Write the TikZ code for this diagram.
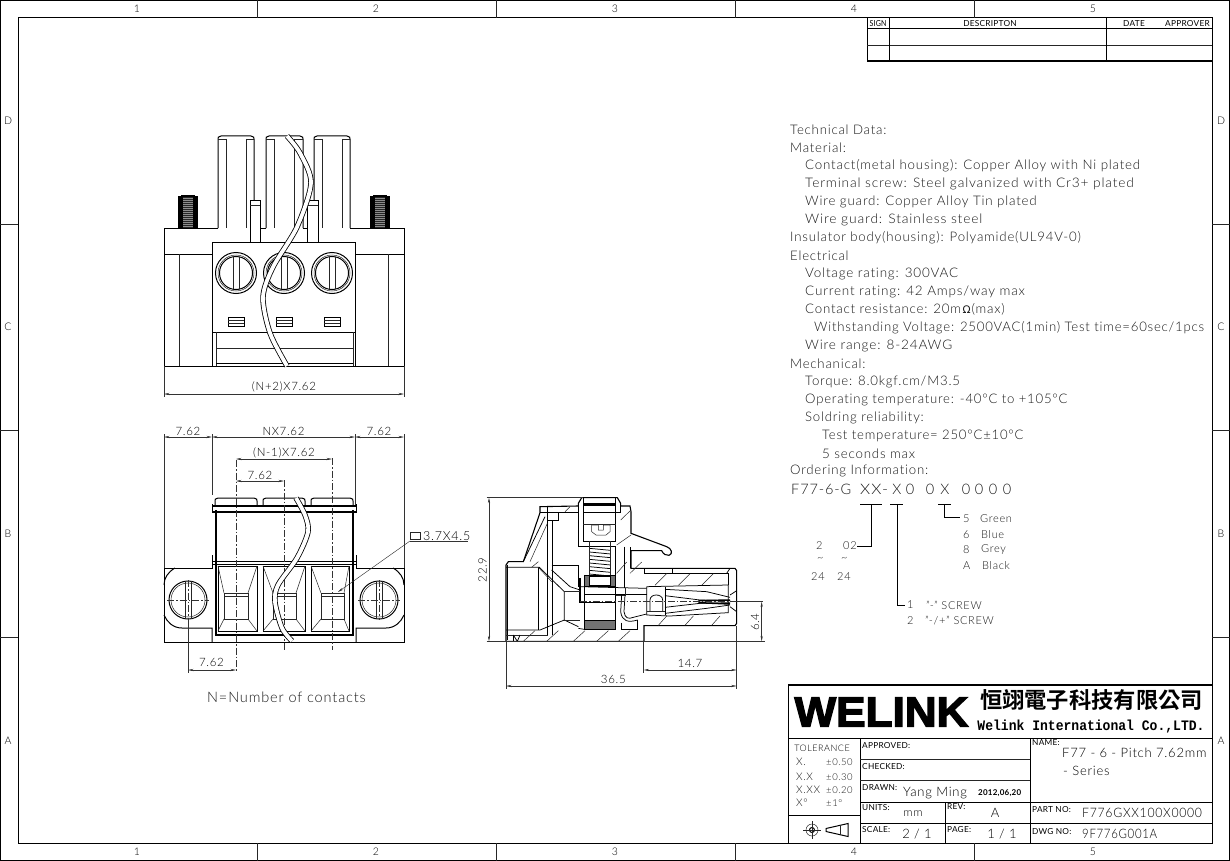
\documentclass[tikz,border=0pt]{standalone}
\usepackage{fontspec}
\usepackage{tikz}
\usetikzlibrary{arrows.meta}
\setmainfont[LetterSpace=6,Ligatures=NoCommon]{Lato Light}
\newfontfamily\capfont[LetterSpace=3,Ligatures=NoCommon]{Lato}
\newfontfamily\cjkbold[BoldFont=Noto Sans CJK TC Bold]{Noto Sans CJK TC}
\newfontfamily\logofont[FakeBold=3]{Liberation Sans Bold}
\newfontfamily\slabfont{Liberation Mono}
\newfontfamily\symfont{DejaVu Sans}
\definecolor{inkdim}{gray}{0.2}
\tikzset{
  x=1pt, y=-1pt,
  part/.style={line width=1pt, black},
  sidepart/.style={line width=0.75pt, black},
  heavy/.style={line width=1.5pt, black},
  fine/.style={line width=0.5pt, black!85},
  dimline/.style={line width=0.45pt, inkdim, {Stealth[length=5.5pt,width=2.2pt]}-{Stealth[length=5.5pt,width=2.2pt]}},
  extline/.style={line width=0.45pt, inkdim},
  centerline/.style={line width=0.45pt, inkdim, dash pattern=on 7pt off 2pt on 1.5pt off 2pt},
  wire/.style={line width=5.4pt, black, postaction={draw=white, line width=3.8pt}},
  dimtext/.style={font=\fontsize{11.5}{12}\selectfont, text=black, inner sep=0pt, yshift=-0.5pt},
  techtext/.style={font=\fontsize{13.2}{14}\selectfont, text=black!90, inner sep=0pt, anchor=west, yshift=-1.5pt},
  ordtext/.style={font=\fontsize{11}{12}\selectfont, text=black!90, inner sep=0pt, anchor=west},
  labelsmall/.style={font=\capfont\fontsize{8.3}{9}\selectfont, inner sep=0pt, anchor=west},
  valuetext/.style={font=\fontsize{13}{14}\selectfont, inner sep=0pt, anchor=west},
  zonetext/.style={font=\fontsize{10.5}{11}\selectfont, inner sep=0pt},
}
\begin{document}
\begin{tikzpicture}
\useasboundingbox (0,0) rectangle (1230,861);
% sheet frame
\draw[part] (0.5,0.5) rectangle (1229.5,860.5);
\draw[part] (18,18) rectangle (1212.5,843);
\foreach \px in {257,496,735,974} {
  \draw[fine] (\px,0) -- (\px,18);
  \draw[fine] (\px,843) -- (\px,861);
}
\foreach \py in {224,430,637} {
  \draw[fine] (0,\py) -- (18,\py);
  \draw[fine] (1212,\py) -- (1230,\py);
}
\foreach \i/\px in {1/137,2/376,3/615,4/854,5/1093} {
  \node[zonetext] (zonetop\i) at (\px,9) {\i};
  \node[zonetext] (zonebot\i) at (\px,852) {\i};
}
\foreach \i/\py in {D/121,C/327,B/534,A/741} {
  \node[zonetext] (zoneleft\i) at (8,\py) {\i};
  \node[zonetext] (zoneright\i) at (1221,\py) {\i};
}
% revision table
\draw[part] (867,18) -- (867,61);
\draw[part] (867,29) -- (1212,29);
\draw[fine] (867,45) -- (1212,45);
\draw[heavy] (867,61) -- (1212,61);
\draw[part] (889,18) -- (889,61);
\draw[part] (1106,18) -- (1106,61);
\node[labelsmall, anchor=center, xscale=0.85] (revsign) at (878,23.5) {SIGN};
\node[labelsmall, anchor=center] (revdesc) at (990,23.5) {DESCRIPTON};
\node[labelsmall, anchor=center] (revdate) at (1134,23.5) {DATE};
\node[labelsmall, anchor=center] (revappr) at (1187.5,23.5) {APPROVER};

% top view
\draw[part] (164,228) rectangle (404,366);
\draw[part] (164,254) -- (212,254);
\draw[part] (356,254) -- (404,254);
\draw[fine] (179,254) -- (179,366);
\draw[fine] (388,254) -- (388,366);
\fill[white] (218,226) rectangle (254,229);
\fill[white] (266,226) rectangle (303,229);
\fill[white] (314,226) rectangle (350,229);
\foreach \a/\b/\c/\d in {218/226/246/254,266/274/294/303,314/322/342/350} {
  \draw[part] (\a,228) -- (\a,139) .. controls (\a,137) .. (\a+3,136) -- (\d-3,136) .. controls (\d,137) .. (\d,139) -- (\d,228);
  \draw[fine] (\b,139) -- (\b,228);
  \draw[fine] (\c,139) -- (\c,228);
  \draw[fine] (\a,139) -- (\b,139);
  \draw[fine] (\c,139) -- (\d,139);
}
\fill[white] (250,200) rectangle (260,242);
\fill[white] (307,200) rectangle (318,242);
\draw[part] (250,242) -- (250,200) -- (260,200) -- (260,242);
\draw[fine] (250,205) -- (260,205);
\draw[part] (307,242) -- (307,200) -- (318,200) -- (318,242);
\draw[fine] (307,205) -- (318,205);
\foreach \a/\b in {178/198,370/390} {
  \fill[black!45] (\a+2,197) rectangle (\b-2,228);
  \foreach \py in {197,199,...,227} {
    \draw[line width=1.1pt, black] (\a,\py) -- (\a+5,\py);
    \draw[line width=1.1pt, black] (\b-5,\py) -- (\b,\py);
    \draw[line width=0.6pt, black!85] (\a+5,\py) -- (\b-5,\py);
  }
  \draw[line width=2pt, black] (\a+3,195.5) -- (\b-3,195.5);
}
\draw[part, fill=white] (212,242) rectangle (355,366);
\draw[part] (212,332) -- (355,332);
\draw[fine] (216,332) -- (216,366);
\draw[fine] (353,332) -- (353,366);
\draw[fine] (216,348) -- (353,348);
\draw[part] (216,363) -- (353,363);
\foreach \px in {236,284,332} {
  \draw[part] (\px,273) circle (20.5);
  \draw[fine] (\px,273) circle (18);
  \draw[part] (\px,273) circle (16.5);
  \draw[fine] (\px-3,257) -- (\px-3,289);
  \draw[fine] (\px+3,257) -- (\px+3,289);
  \draw[part] (\px-8,317) rectangle (\px+8,326);
  \draw[fine] (\px-8,320) -- (\px+8,320);
  \draw[fine] (\px-8,323) -- (\px+8,323);
}
\draw[wire] plot[smooth] coordinates {(287,136) (300,153) (311,183) (297,227) (273,267) (263,297) (270,333) (287,366)};
% top view dimension
\draw[extline] (164,366) -- (164,397);
\draw[extline] (404,366) -- (404,397);
\draw[dimline] (164,394) -- (404,394);
\node[dimtext] (topwidth) at (284,386) {(N+2)X7.62};

% front view
\draw[part] (212,555) -- (212,568) -- (164,568) -- (164,642) -- (404,642) -- (404,568) -- (356,568) -- (356,555);
\draw[part] (175,568) .. controls (168,572) and (164,578) .. (164,585);
\draw[part] (164,615) .. controls (167,622) and (173,628) .. (182,628) -- (212,628) -- (212,642);
\draw[part] (393,568) .. controls (400,572) and (404,578) .. (404,585);
\draw[part] (404,615) .. controls (401,622) and (395,628) .. (386,628) -- (356,628) -- (356,642);
\foreach \a/\b in {215/257,263/305,311/353} {
  \draw[part] (\a,506) -- (\a,501) .. controls (\a,499) .. (\a+3,498) -- (\b-3,498) .. controls (\b,499) .. (\b,501) -- (\b,506);
}
\draw[heavy] (212,506) -- (356,506);
\draw[heavy] (212,512) -- (356,512);
\draw[part] (212,504) -- (212,513);
\draw[part] (356,504) -- (356,513);
\draw[heavy] (216,510) -- (216,635) -- (353,635) -- (353,510);
\draw[part] (212,561) -- (356,561);
\draw[heavy] (212,564.5) -- (356,564.5);
\foreach \a/\b/\c/\d in {218/257/224/248,263/305/273/296,311/349/321/344} {
  \draw[part] (\a,566) rectangle (\b,631);
  \draw[fine] (\c,593) rectangle (\d,619);
  \draw[fine] (\c,596) -- (\d,596);
  \draw[fine] (\a,566) -- (\c,593);
  \draw[fine] (\b,566) -- (\d,593);
  \draw[fine] (\a,631) -- (\c,619);
  \draw[fine] (\b,631) -- (\d,619);
}
\foreach \px in {188,379} {
  \draw[part] (\px,600) circle (19);
  \draw[fine] (\px,600) circle (17);
  \draw[fine] (\px-3,581) -- (\px-3,619);
  \draw[fine] (\px+3,581) -- (\px+3,619);
  \draw[centerline] (\px-21,600) -- (\px+21,600);
  \draw[centerline] (\px,580) -- (\px,620);
}
\draw[centerline] (236,460) -- (236,672);
\draw[centerline] (284,480) -- (284,650);
\draw[centerline] (332,458) -- (332,650);
\draw[wire] plot[smooth] coordinates {(296,498) (305,515) (308,532) (297,558) (278,585) (275,602) (282,628) (292,641)};
% front view dimensions
\draw[extline] (164,434) -- (164,568);
\draw[extline] (212,434) -- (212,495);
\draw[extline] (355,434) -- (355,505);
\draw[extline] (404,434) -- (404,568);
\draw[dimline] (164,437) -- (212,437);
\draw[dimline] (212,437) -- (355,437);
\draw[dimline] (355,437) -- (404,437);
\node[dimtext] (pitchleft) at (188,430.5) {7.62};
\node[dimtext] (pitchall) at (283.5,430.5) {NX7.62};
\node[dimtext] (pitchright) at (379,430.5) {7.62};
\draw[dimline] (236,459) -- (332,459);
\node[dimtext] (pitchinner) at (284,452.5) {(N-1)X7.62};
\draw[dimline] (236,481) -- (284,481);
\node[dimtext] (pitchone) at (260,474.5) {7.62};
\draw[extline] (188,620) -- (188,673);
\draw[dimline] (188,670) -- (236,670);
\node[dimtext] (pitchear) at (211.5,662) {7.62};
\draw[extline, -{Stealth[length=5.5pt,width=2.2pt]}] (410,541) -- (338,592);
\draw[extline] (410,541) -- (468,541);
\draw[fine] (410.5,532.5) rectangle (420.5,539.5);
\node[dimtext, anchor=west, font=\fontsize{12.5}{13}\selectfont] (holesize) at (423,536) {3.7X4.5};
\node[font=\fontsize{14.5}{15}\selectfont, text=black!90, inner sep=0pt] (contactnote) at (286.5,697) {N=Number of contacts};

% side view, in thirds of a pixel
\begin{scope}[shift={(470,480)}, scale=0.33333]
\draw[line width=1.1pt] (108,484) -- (108,255) -- (115,245) -- (160,245) -- (210,98) -- (210,80) -- (325,78) -- (325,70) -- (335,53) -- (442,53) -- (452,70) -- (452,78) -- (480,78) -- (483,95) -- (483,160) -- (590,200) .. controls (605,205) and (610,222) .. (597,226) .. controls (588,228) and (580,222) .. (575,212) -- (483,212) -- (483,265) -- (795,265) -- (800,272) -- (800,430) -- (795,437) -- (522,437) -- (522,484) -- cycle;
% funnel
\draw[sidepart] (108,262) -- (208,262) -- (283,335) -- (283,420) -- (210,450) -- (108,450);
\draw[sidepart] (205,262) -- (205,450);
\draw[sidepart] (113,255) -- (113,480);
\draw[fine] (108,465) -- (233,465);
\draw[sidepart] (233,100) -- (233,465);
\draw[sidepart] (246,120) -- (246,465);
\draw[sidepart] (210,98) -- (265,98) -- (265,120) -- (233,120);
\draw[sidepart] (160,245) -- (225,110);
\draw[fine] (180,245) -- (232,130);
\draw[sidepart] (233,98) -- (233,80);
\draw[sidepart] (325,78) -- (325,200) -- (435,200) -- (435,448);
\draw[sidepart] (265,98) -- (325,98);
\draw[sidepart] (452,78) -- (452,98) -- (340,98);
% screw head
\draw[sidepart] (340,53) rectangle (437,70);
\draw[sidepart] (340,75) rectangle (437,183);
\draw[heavy] (340,75) -- (437,75);
\draw[fine] (340,132) -- (437,132);
\draw[fine] (365,135) -- (365,155) -- (378,165) -- (408,165) -- (420,155) -- (420,135) -- (400,135) -- (400,150) -- (385,150) -- (385,135) -- cycle;
\draw[fine] (358,183) -- (358,200);
\draw[fine] (422,183) -- (422,200);
% spring
\foreach \py in {205,216,...,285} {
  \draw[sidepart] (358,\py) -- (422,\py+6);
}
\draw[fine] (358,200) -- (358,290);
\draw[fine] (422,200) -- (422,290);
\fill[black!55] (342,285) rectangle (358,320);
\fill[black!55] (420,285) rectangle (435,320);
\fill[black!55] (342,422) rectangle (435,448);
\draw[sidepart] (342,285) rectangle (435,320);
\draw[sidepart] (342,422) rectangle (435,448);
\draw[heavy] (358,290) rectangle (422,318);
% shaft and contact
\draw[heavy] (330,295) -- (330,370);
\draw[sidepart] (330,320) -- (530,325);
\draw[sidepart] (342,342) -- (530,342);
\draw[sidepart] (330,368) -- (435,368);
\draw[sidepart] (342,320) -- (342,422);
\draw[sidepart] (325,445) -- (342,448);
\draw[sidepart] (325,440) -- (283,420);
\draw[sidepart] (437,200) -- (437,325);
\draw[sidepart] (462,200) -- (462,325);
\draw[fine] (437,345) -- (465,345) -- (465,325);
\draw[sidepart] (465,345) -- (462,395) .. controls (465,415) and (475,418) .. (490,412) -- (530,402);
\draw[sidepart] (455,345) -- (452,395) .. controls (456,425) and (475,428) .. (503,420);
\draw[sidepart] (455,428) -- (455,448) -- (503,448) -- (503,420);
\draw[sidepart] (530,320) -- (530,405) -- (600,408) -- (775,398) -- (775,315) -- (530,320);
\draw[sidepart] (585,322) -- (585,405);
\draw[sidepart] (540,395) -- (540,360) .. controls (540,340) and (578,340) .. (578,360) -- (578,395);
\draw[fine] (530,395) -- (585,395);
\draw[sidepart] (585,328) -- (710,335) -- (780,352);
\draw[sidepart] (585,347) -- (690,360) -- (780,362);
\draw[sidepart] (585,400) -- (710,385) -- (780,375);
\draw[sidepart] (585,382) -- (690,370) -- (780,368);
\draw[heavy] (685,362) -- (780,360);
\draw[heavy] (685,368) -- (780,372);
\draw[sidepart] (780,345) -- (800,332);
\draw[sidepart] (780,380) -- (800,395);
\draw[sidepart] (522,265) -- (522,280) -- (608,280) -- (608,265);
\draw[sidepart] (480,265) -- (480,200);
\draw[sidepart] (770,280) -- (780,265);
\draw[sidepart] (522,280) -- (775,280) -- (775,315);
% wall hatching
\foreach \a/\b in {555/590,625/660,695/730} {
  \draw[fine] (\a,316) -- (\b,281);
}
\foreach \a/\b in {565/590,645/670,725/750} {
  \draw[fine] (\a,436) -- (\b,408);
}
\foreach \a/\b in {160/195,230/265,310/345,380/415,445/480} {
  \draw[fine] (\a,484) -- (\b,452);
}
\foreach \a/\b in {440/470,480/515} {
  \draw[fine] (\a,280) -- (\b,246);
}
\draw[fine] (185,262) -- (205,245);
\draw[fine] (452,120) -- (483,90);
\draw[fine] (440,195) -- (483,165);
\draw[fine] (285,95) -- (300,80);
\draw[fine] (245,305) -- (205,262);
\draw[sidepart] (245,255) -- (325,255) -- (325,320);
\draw[sidepart] (245,270) -- (300,320) -- (330,330);
\draw[fine] (283,335) -- (330,335);
\draw[fine] (283,420) -- (330,420);
\draw[centerline] (330,365) -- (880,365);
\draw[sidepart] (130,465) -- (130,484);
\draw[sidepart] (130,465) -- (142,484) -- (150,465);
% side view dimensions
\draw[extline] (50,53) -- (340,53);
\draw[extline] (50,484) -- (885,484);
\draw[dimline] (57,53) -- (57,484);
\node[dimtext, rotate=90] (sideheight) at (38,268) {22.9};
\draw[extline] (790,365) -- (880,365);
\draw[dimline] (875,365) -- (875,484);
\node[dimtext, rotate=90] (sidepin) at (855,425) {6.4};
\draw[extline] (521,484) -- (521,578);
\draw[extline] (800,437) -- (800,626);
\draw[dimline] (521,570) -- (800,570);
\node[dimtext] (sidereach) at (660,548) {14.7};
\draw[extline] (108,484) -- (108,626);
\draw[dimline] (108,618) -- (800,618);
\node[dimtext] (sidelength) at (430,598) {36.5};
\end{scope}

% technical data
\foreach \i/\px/\py/\sx/\txt in {
  a/790/128/1/{Technical Data:},
  b/790/146/1/{Material:},
  c/805/164/1.01/{Contact(metal housing): Copper Alloy with Ni plated},
  d/805/182/1.04/{Terminal screw: Steel galvanized with Cr3+ plated},
  e/805/200/1.013/{Wire guard: Copper Alloy Tin plated},
  f/805/218/1.05/{Wire guard: Stainless steel},
  g/790/236/1.003/{Insulator body(housing): Polyamide(UL94V-0)},
  h/790/254/1/{Electrical},
  i/805/272/1.02/{Voltage rating: 300VAC},
  j/805/290/1.023/{Current rating: 42 Amps/way max},
  k/805/308/1.005/{Contact resistance: 20m\hspace{1.5pt}{\symfont\fontsize{10.5}{12}\selectfont Ω}\hspace{1pt}(max)},
  l/814/326/0.997/{Withstanding Voltage: 2500VAC(1min) Test time=60sec/1pcs},
  m/805/344/1.03/{Wire range: 8-24AWG},
  n/790/362/1/{Mechanical:},
  o/805/380/1/{Torque: 8.0kgf.cm/M3.5},
  p/805/398/0.996/{Operating temperature: -40°C to +105°C},
  q/805/416/1/{Soldring reliability:},
  r/822/434/0.995/{Test temperature= 250°C±10°C},
  s/822/452/1.01/{5 seconds max},
  t/790/469.5/1/{Ordering Information:}%
} {
  \node[techtext, xscale=\sx] (tech\i) at (\px,\py) {\txt};
}
% ordering code
\node[techtext, font=\fontsize{14.5}{15}\selectfont] (codeprefix) at (791,488) {F77-6-G};
\node[techtext, xscale=1.12, font=\fontsize{14.5}{15}\selectfont] (codexx) at (860,488) {XX-};
\foreach \i/\px/\txt in {a/897/X,b/910/0,c/930/0,d/945/X,e/966/0,f/979/0,g/993/0,h/1007/0} {
  \node[techtext, anchor=center, font=\fontsize{14.5}{15}\selectfont] (code\i) at (\px,488) {\txt};
}
\coordinate (xxbar) at (871,504);
\coordinate (xbar) at (897,504);
\coordinate (colbar) at (944,504);
\draw[part] (860,504) -- (882,504);
\draw[part] (890,504) -- (903,504);
\draw[part] (938,504) -- (951,504);
\draw[part] (xxbar) -- (871,546) -- (857,546);
\draw[part] (xbar) -- (897,605) -- (905,605);
\draw[part] (colbar) -- (944,517) -- (960,517);
\foreach \i/\px/\py/\txt in {
  a/963/519/5, b/980/519/Green, c/963/535/6, d/981/535/Blue,
  e/963/550/8, f/981/550/Grey, g/963/566/A, h/982/566/Black,
  i/816/546/2, j/843/546/02, k/817/559/{\char"007E}, l/841/559/{\char"007E},
  m/811/577/24, n/837/577/24,
  o/907/605/1, p/926/605/{"-" SCREW}, q/907/621/2, r/925/621/{"-/+" SCREW}%
} {
  \node[ordtext] (ord\i) at (\px,\py) {\txt};
}

% title block
\draw[heavy] (788,685) -- (1213,685);
\draw[part] (788,685) -- (788,843);
\draw[part] (788,738) -- (1212,738);
\draw[part] (860,738) -- (860,843);
\draw[part] (1030,738) -- (1030,843);
\draw[part] (945,802) -- (945,843);
\draw[fine] (860,759) -- (1030,759);
\draw[fine] (860,780) -- (1030,780);
\draw[part] (860,802) -- (1212,802);
\draw[part] (860,823) -- (1212,823);
\draw[part] (788,815) -- (860,815);
\node[font=\logofont\fontsize{42}{42}\selectfont, inner sep=0pt, xscale=1.05] (logo) at (881.5,712) {WELINK};
\node[font=\cjkbold\bfseries\fontsize{22.3}{24}\selectfont, inner sep=0pt] (namecn) at (1091.5,700) {恒翊電子科技有限公司};
\node[font=\slabfont\bfseries\fontsize{14.5}{15}\selectfont, inner sep=0pt, xscale=0.9] (nameen) at (1091,726.5) {Welink International Co.,LTD.};
\node[labelsmall, anchor=center, font=\fontsize{9}{10}\selectfont] (tolhead) at (822,748) {TOLERANCE};
\foreach \i/\py/\lab/\val in {a/762/X./±0.50, b/777/X.X/±0.30, c/790/X.XX/±0.20, d/803/X°/±1°} {
  \node[ordtext, font=\fontsize{10.5}{11}\selectfont] (tollab\i) at (796,\py) {\lab};
  \node[ordtext, font=\fontsize{9.5}{10}\selectfont] (tolval\i) at (826,\py) {\val};
}
\draw[fine] (812,830) circle (6);
\draw[part] (812,830) circle (2.5);
\draw[fine] (803,830) -- (821,830);
\draw[fine] (812,821) -- (812,839);
\draw[part] (826,828.5) -- (848,823.5) -- (848,836.5) -- (826,831.5) -- cycle;
\draw[fine] (840,825.5) -- (840,834.5);
\foreach \i/\px/\py/\txt in {
  a/862/746/{APPROVED:}, b/862/767/{CHECKED:}, c/862/788/{DRAWN:},
  d/862/808/{UNITS:}, e/947/807/{REV:}, f/862/830/{SCALE:}, g/947/830/{PAGE:},
  h/1032/743/{NAME:}, i/1032/810/{PART NO:}, j/1032/832/{DWG NO:}%
} {
  \node[labelsmall] (cap\i) at (\px,\py) {\txt};
}
\node[valuetext] (drawnname) at (903,793) {Yang Ming};
\node[labelsmall, anchor=west, font=\capfont\bfseries\fontsize{8}{9}\selectfont] (drawndate) at (978,793) {2012,06,20};
\node[valuetext, anchor=center, font=\fontsize{11.5}{12}\selectfont] (unitval) at (913,814) {mm};
\node[valuetext, anchor=center] (revval) at (995,813) {A};
\node[valuetext, anchor=center] (scaleval) at (917,834) {2 / 1};
\node[valuetext, anchor=center] (pageval) at (1002,834) {1 / 1};
\node[valuetext] (nameone) at (1062,753) {F77 - 6 - Pitch 7.62mm};
\node[valuetext] (nametwo) at (1063,771) {- Series};
\node[valuetext, xscale=0.94] (partval) at (1082,813) {F776GXX100X0000};
\node[valuetext, xscale=0.88] (dwgval) at (1082,834) {9F776G001A};
\end{tikzpicture}
\end{document}
